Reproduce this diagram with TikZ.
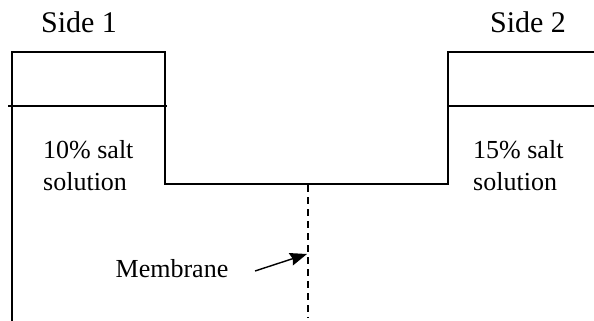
\documentclass[tikz,border=0pt]{standalone}
\usepackage{fontspec}
\setmainfont{Liberation Serif}
\usetikzlibrary{arrows.meta}
\tikzset{
  wall/.style={line width=1.4pt, line cap=rect},
  lbl/.style={inner sep=0pt, font=\fontsize{26}{32}\selectfont},
  sidelbl/.style={inner sep=0pt, anchor=base, font=\fontsize{30}{34}\selectfont},
  memb/.style={line width=1.4pt, dash pattern=on 7pt off 5pt},
  pointer/.style={line width=1.4pt, -{Stealth[length=17pt,width=13pt,inset=2pt]}}
}
\begin{document}
\begin{tikzpicture}[x=1pt,y=-1pt]
\useasboundingbox (0,0) rectangle (594,321);
% container walls
\draw[wall] (12,321) -- (12,52) -- (165,52) -- (165,184) -- (448,184) -- (448,52) -- (594,52);
% water levels
\draw[wall] (9,106) -- (166,106);
\draw[wall] (448,106) -- (594,106);
% labels
\node[sidelbl] (s1) at (79,33) {Side 1};
\node[sidelbl] (s2) at (528,33) {Side 2};
\node[lbl, anchor=base west, align=left] (c1) at (43,190) {10\% salt\\solution};
\node[lbl, anchor=base west, align=left] (c2) at (473,190) {15\% salt\\solution};
% membrane
\coordinate (mtop) at (308,185);
\coordinate (mbot) at (308,318);
\draw[memb] (mtop) -- (mbot);
\node[lbl, anchor=base] (ml) at (172,277) {Membrane};
\coordinate (astart) at (255,271);
\coordinate (aend) at (307,254);
\draw[pointer] (astart) -- (aend);
\end{tikzpicture}
\end{document}
